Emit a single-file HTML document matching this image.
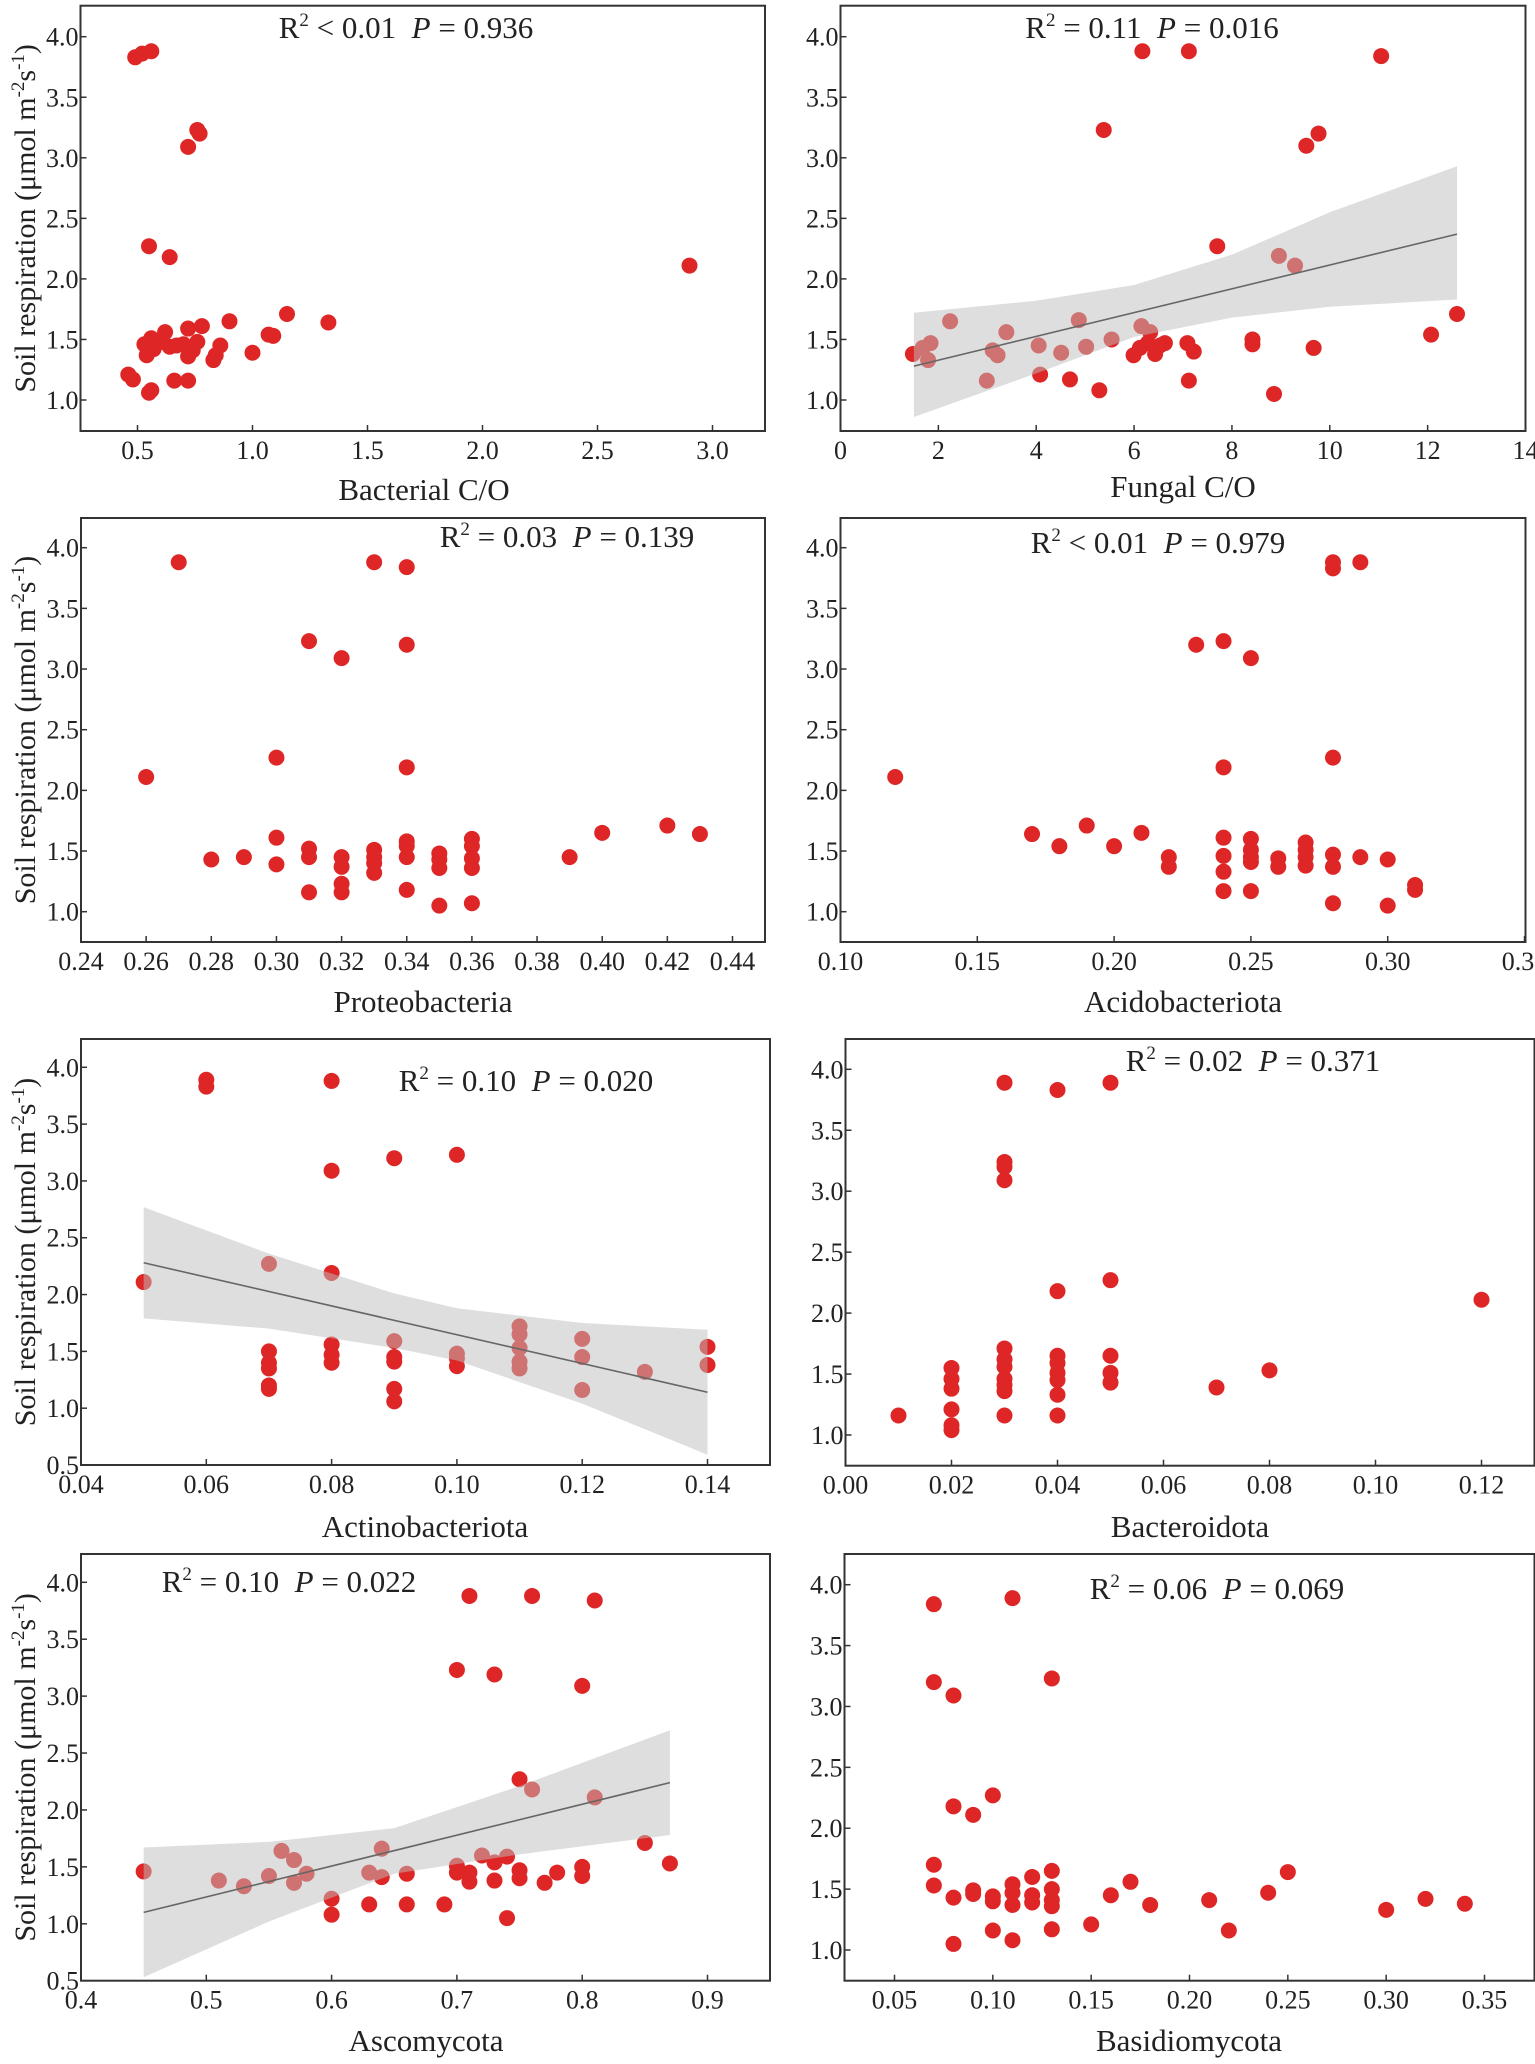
<!DOCTYPE html>
<html><head><meta charset="utf-8">
<style>
html,body{margin:0;padding:0;background:#fff;}
svg{display:block;font-family:"Liberation Serif",serif;}
</style></head>
<body>
<svg id="fig" width="1535" height="2064" viewBox="0 0 1535 2064" xmlns="http://www.w3.org/2000/svg"></svg>
<script>
// ---- Panel 1: Bacterial C/O ----
const p1X = [0.49,0.52,0.56,0.76,0.77,0.72,0.55,0.64,2.90,1.15,1.33,0.90,0.78,0.72,0.62,1.07,1.09,1.00,0.86,0.84,0.83,0.53,0.54,0.56,0.58,0.60,0.64,0.67,0.72,0.74,0.76,0.57,0.70,0.46,0.48,0.55,0.56,0.66,0.72];
const p1Y = [3.83,3.86,3.88,3.23,3.20,3.09,2.27,2.18,2.11,1.71,1.64,1.65,1.61,1.59,1.56,1.54,1.53,1.39,1.45,1.37,1.33,1.46,1.37,1.51,1.46,1.48,1.44,1.45,1.36,1.41,1.48,1.42,1.46,1.21,1.17,1.06,1.08,1.16,1.16];
const p1XTicks = ["0.5","1.0","1.5","2.0","2.5","3.0"];
// ---- Panel 2: Fungal C/O ----
const p2X = [6.17,7.12,11.05,5.38,9.52,9.77,7.70,8.96,9.29,12.6,12.07,9.67,8.42,8.42,7.22,7.09,7.12,8.86,5.29,4.69,4.08,2.99,1.48,1.68,1.79,1.84,2.24,3.11,3.21,3.39,4.05,4.51,4.87,5.02,5.54,6.15,6.33,5.99,6.12,6.28,6.43,6.53,6.63];
const p2Y = [3.88,3.88,3.84,3.23,3.10,3.20,2.27,2.19,2.11,1.71,1.54,1.43,1.50,1.46,1.40,1.47,1.16,1.05,1.08,1.17,1.21,1.16,1.38,1.43,1.33,1.47,1.65,1.41,1.37,1.56,1.45,1.39,1.66,1.44,1.50,1.61,1.56,1.37,1.43,1.47,1.38,1.45,1.47];
const p2XTicks = ["0","2","4","6","8","10","12","14"];
const p2Fit = [1.5,1.28,12.6,2.37];
const p2BandX = [1.5,4,6,8,10,12.6];
const p2BandUp = [1.72,1.82,1.95,2.20,2.55,2.93];
const p2BandLo = [0.86,1.22,1.52,1.68,1.77,1.83];
// ---- Panel 3: Proteobacteria ----
const p3X = [0.27,0.33,0.34,0.31,0.32,0.34,0.30,0.34,0.26,0.42,0.40,0.43,0.39,0.30,0.30,0.28,0.29,0.31,0.31,0.31,0.32,0.32,0.32,0.32,0.33,0.33,0.33,0.33,0.34,0.34,0.34,0.34,0.35,0.35,0.35,0.35,0.36,0.36,0.36,0.36,0.36];
const p3Y = [3.88,3.88,3.84,3.23,3.09,3.20,2.27,2.19,2.11,1.71,1.65,1.64,1.45,1.61,1.39,1.43,1.45,1.52,1.45,1.16,1.45,1.37,1.23,1.16,1.51,1.45,1.40,1.32,1.58,1.54,1.45,1.18,1.48,1.43,1.36,1.05,1.60,1.54,1.44,1.36,1.07];
const p3XTicks = ["0.24","0.26","0.28","0.30","0.32","0.34","0.36","0.38","0.40","0.42","0.44"];
// ---- Panel 4: Acidobacteriota ----
const p4X = [0.28,0.28,0.29,0.23,0.24,0.25,0.28,0.24,0.12,0.17,0.18,0.19,0.20,0.21,0.22,0.22,0.24,0.24,0.24,0.24,0.25,0.25,0.25,0.25,0.25,0.26,0.26,0.27,0.27,0.27,0.27,0.28,0.28,0.28,0.29,0.30,0.30,0.31,0.31];
const p4Y = [3.88,3.83,3.88,3.20,3.23,3.09,2.27,2.19,2.11,1.64,1.54,1.71,1.54,1.65,1.45,1.37,1.61,1.46,1.33,1.17,1.60,1.51,1.45,1.41,1.17,1.44,1.37,1.57,1.51,1.45,1.38,1.47,1.37,1.07,1.45,1.43,1.05,1.22,1.18];
const p4XTicks = ["0.10","0.15","0.20","0.25","0.30","0.35"];
// ---- Panel 5: Actinobacteriota ----
const p5X = [0.06,0.06,0.08,0.08,0.08,0.09,0.10,0.05,0.07,0.07,0.07,0.07,0.07,0.07,0.08,0.08,0.08,0.09,0.09,0.09,0.09,0.09,0.10,0.10,0.10,0.11,0.11,0.11,0.11,0.11,0.12,0.12,0.12,0.13,0.14,0.14];
const p5Y = [3.89,3.83,3.88,3.09,2.19,3.20,3.23,2.11,2.27,1.50,1.40,1.35,1.20,1.17,1.56,1.47,1.40,1.59,1.45,1.41,1.17,1.06,1.48,1.44,1.37,1.72,1.65,1.53,1.41,1.35,1.61,1.45,1.16,1.32,1.54,1.38];
const p5XTicks = ["0.04","0.06","0.08","0.10","0.12","0.14"];
const p5Fit = [0.05,2.28,0.14,1.14];
const p5BandX = [0.05,0.07,0.09,0.10,0.12,0.14];
const p5BandUp = [2.77,2.36,2.01,1.88,1.75,1.69];
const p5BandLo = [1.79,1.70,1.53,1.42,1.04,0.59];
// ---- Panel 6: Bacteroidota ----
const p6X = [0.03,0.04,0.05,0.03,0.03,0.03,0.04,0.05,0.12,0.01,0.02,0.02,0.02,0.02,0.02,0.02,0.03,0.03,0.03,0.03,0.03,0.03,0.03,0.04,0.04,0.04,0.04,0.04,0.04,0.05,0.05,0.05,0.07,0.08];
const p6Y = [3.89,3.83,3.89,3.24,3.20,3.09,2.18,2.27,2.11,1.16,1.55,1.46,1.38,1.21,1.08,1.04,1.71,1.62,1.56,1.46,1.41,1.36,1.16,1.65,1.59,1.51,1.45,1.33,1.16,1.65,1.51,1.43,1.39,1.53];
const p6XTicks = ["0.00","0.02","0.04","0.06","0.08","0.10","0.12"];
// ---- Panel 7: Ascomycota ----
const p7X = [0.71,0.76,0.81,0.70,0.73,0.80,0.75,0.76,0.81,0.85,0.87,0.45,0.51,0.53,0.55,0.56,0.57,0.57,0.58,0.60,0.60,0.63,0.63,0.64,0.64,0.66,0.66,0.69,0.70,0.70,0.71,0.71,0.72,0.73,0.73,0.74,0.74,0.75,0.75,0.77,0.78,0.80,0.80];
const p7Y = [3.88,3.88,3.84,3.23,3.19,3.09,2.27,2.18,2.11,1.71,1.53,1.46,1.38,1.33,1.42,1.64,1.56,1.36,1.44,1.22,1.08,1.45,1.17,1.66,1.41,1.44,1.17,1.17,1.51,1.45,1.45,1.37,1.60,1.54,1.38,1.59,1.05,1.47,1.40,1.36,1.45,1.50,1.42];
const p7XTicks = ["0.4","0.5","0.6","0.7","0.8","0.9"];
const p7Fit = [0.45,1.10,0.87,2.24];
const p7BandX = [0.45,0.55,0.65,0.75,0.87];
const p7BandUp = [1.67,1.72,1.84,2.21,2.70];
const p7BandLo = [0.53,1.02,1.44,1.61,1.78];
// ---- Panel 8: Basidiomycota ----
const p8X = [0.07,0.07,0.07,0.07,0.08,0.08,0.08,0.08,0.09,0.09,0.09,0.10,0.10,0.10,0.10,0.11,0.11,0.11,0.11,0.11,0.12,0.12,0.12,0.13,0.13,0.13,0.13,0.13,0.13,0.15,0.16,0.17,0.18,0.21,0.22,0.24,0.25,0.30,0.32,0.34];
const p8Y = [3.84,3.20,1.70,1.53,3.09,2.18,1.43,1.05,2.11,1.49,1.46,2.27,1.44,1.40,1.16,3.89,1.54,1.47,1.37,1.08,1.60,1.45,1.39,3.23,1.65,1.50,1.41,1.36,1.17,1.21,1.45,1.56,1.37,1.41,1.16,1.47,1.64,1.33,1.42,1.38];
const p8XTicks = ["0.05","0.10","0.15","0.20","0.25","0.30","0.35"];
// y tick labels
const yTicksA = ["1.0","1.5","2.0","2.5","3.0","3.5","4.0"];
const yTicksB = ["0.5","1.0","1.5","2.0","2.5","3.0","3.5","4.0"];

const NS = "http://www.w3.org/2000/svg";
const svg = document.getElementById('fig');
function mk(tag, attrs, parent){ const e=document.createElementNS(NS,tag); for(const k in attrs) e.setAttribute(k,attrs[k]); (parent||svg).appendChild(e); return e; }
function lin(d0,r0,d1,r1){ return v => r0 + (v-d0)*(r1-r0)/(d1-d0); }
const SP = "\u00a0";

const panels = [
 {id:'bacterial-co', x0:80.5,x1:765,y0:5.7,y1:431, xm:[0.5,137.5,1.0,252.5], ym:[4,36.7,1,400], xs:p1X, ys:p1Y, xt:p1XTicks, yt:yTicksA,
  t2:" < 0.01", tp:"0.936", tx:406, ty:38, lab:"Bacterial C/O", lx:424, ly:500},
 {id:'fungal-co', x0:840.5,x1:1525.5,y0:5.7,y1:431, xm:[0,840.5,14,1525.5], ym:[4,36.7,1,400], xs:p2X, ys:p2Y, xt:p2XTicks, yt:yTicksA,
  fit:p2Fit, bx:p2BandX, bu:p2BandUp, bl:p2BandLo, t2:" = 0.11", tp:"0.016", tx:1152, ty:38, lab:"Fungal C/O", lx:1183, ly:497},
 {id:'proteobacteria', x0:81,x1:765,y0:518,y1:942, xm:[0.24,81,0.44,732.5], ym:[4,547.7,1,911.7], xs:p3X, ys:p3Y, xt:p3XTicks, yt:yTicksA,
  t2:" = 0.03", tp:"0.139", tx:567, ty:547, lab:"Proteobacteria", lx:423, ly:1012},
 {id:'acidobacteriota', x0:840.5,x1:1525.5,y0:518,y1:942, xm:[0.10,840.5,0.35,1524.5], ym:[4,547.7,1,911.7], xs:p4X, ys:p4Y, xt:p4XTicks, yt:yTicksA,
  t2:" < 0.01", tp:"0.979", tx:1158, ty:553, lab:"Acidobacteriota", lx:1183, ly:1012},
 {id:'actinobacteriota', x0:81,x1:770,y0:1039,y1:1465, xm:[0.04,81,0.14,707.5], ym:[4,1067.3,0.5,1465], xs:p5X, ys:p5Y, xt:p5XTicks, yt:yTicksB,
  fit:p5Fit, bx:p5BandX, bu:p5BandUp, bl:p5BandLo, t2:" = 0.10", tp:"0.020", tx:526, ty:1091, lab:"Actinobacteriota", lx:425, ly:1537},
 {id:'bacteroidota', x0:845.5,x1:1534.5,y0:1039,y1:1465.7, xm:[0,845.5,0.12,1481.5], ym:[4,1069.3,1,1435], xs:p6X, ys:p6Y, xt:p6XTicks, yt:yTicksA,
  t2:" = 0.02", tp:"0.371", tx:1253, ty:1071, lab:"Bacteroidota", lx:1190, ly:1537},
 {id:'ascomycota', x0:81,x1:770,y0:1554,y1:1980.7, xm:[0.4,81,0.9,707.5], ym:[4,1582.3,0.5,1980.7], xs:p7X, ys:p7Y, xt:p7XTicks, yt:yTicksB,
  fit:p7Fit, bx:p7BandX, bu:p7BandUp, bl:p7BandLo, t2:" = 0.10", tp:"0.022", tx:289, ty:1592, lab:"Ascomycota", lx:426, ly:2051},
 {id:'basidiomycota', x0:844.5,x1:1534.5,y0:1554,y1:1980.7, xm:[0.05,894.5,0.35,1484.5], ym:[4,1584.7,1,1950], xs:p8X, ys:p8Y, xt:p8XTicks, yt:yTicksA,
  t2:" = 0.06", tp:"0.069", tx:1217, ty:1599, lab:"Basidiomycota", lx:1189, ly:2051}
];

panels.forEach((p, pi) => {
  const sx = lin(...p.xm), sy = lin(...p.ym);
  const g = mk('g', {});
  
  
  const pts = mk('g', {}, g);
  
  
  p.xs.forEach((v, i) => {
    const c = mk('circle', {cx: sx(v), cy: sy(p.ys[i]), r: 8, fill: '#de2626'}, pts);
    
    
  });
  if (p.fit) {
    let d = 'M' + sx(p.bx[0]) + ',' + sy(p.bu[0]);
    for (let i = 1; i < p.bx.length; i++) d += ' L' + sx(p.bx[i]) + ',' + sy(p.bu[i]);
    for (let i = p.bx.length - 1; i >= 0; i--) d += ' L' + sx(p.bx[i]) + ',' + sy(p.bl[i]);
    d += ' Z';
    const band = mk('path', {d: d, fill: '#bdbdbd', 'fill-opacity': 0.5, 'stroke-linejoin': 'round'}, g);
    
    
    const ln = mk('line', {x1: sx(p.fit[0]), y1: sy(p.fit[1]), x2: sx(p.fit[2]), y2: sy(p.fit[3]), stroke: '#666', 'stroke-width': 1.6}, g);
    
    
  }
  const fr = mk('rect', {x: p.x0, y: p.y0, width: p.x1 - p.x0, height: p.y1 - p.y0, fill: 'none', stroke: '#333', 'stroke-width': 2}, g);
  
  
  const xa = mk('g', {}, g);
  
  
  p.xt.forEach(t => {
    const x = sx(parseFloat(t));
    mk('line', {x1: x, y1: p.y1, x2: x, y2: p.y1 - 6, stroke: '#333', 'stroke-width': 1.5}, xa);
    const tx = mk('text', {x: x, y: p.y1 + 28, 'text-anchor': 'middle', 'font-size': 26, fill: '#222'}, xa);
    tx.textContent = t;
    
    
  });
  const ya = mk('g', {}, g);
  
  
  p.yt.forEach(t => {
    const y = sy(parseFloat(t));
    mk('line', {x1: p.x0, y1: y, x2: p.x0 + 6, y2: y, stroke: '#333', 'stroke-width': 1.5}, ya);
    const ty = mk('text', {x: p.x0 - 2, y: y + 9, 'text-anchor': 'end', 'font-size': 26, fill: '#222'}, ya);
    ty.textContent = t;
    
    
  });
  const st = mk('text', {x: p.tx, y: p.ty, 'text-anchor': 'middle', 'font-size': 31, fill: '#222'}, g);
  
  
  st.innerHTML = 'R<tspan dy="-12" font-size="19">2</tspan><tspan dy="12">' + p.t2 + SP + SP + '</tspan><tspan font-style="italic">P</tspan> = ' + p.tp;
  const xl = mk('text', {x: p.lx, y: p.ly, 'text-anchor': 'middle', 'font-size': 31, fill: '#222'}, g);
  xl.textContent = p.lab;
  
  
  if (pi % 2 === 0) {
    const cy = (p.y0 + p.y1) / 2;
    const yl = mk('text', {x: 0, y: 0, transform: 'translate(35,' + cy + ') rotate(-90)', 'text-anchor': 'middle', 'font-size': 30, fill: '#222'}, g);
    
    
    yl.innerHTML = 'Soil respiration (\u03bcmol m<tspan dy="-11" font-size="19">-2</tspan><tspan dy="11" font-size="30">s</tspan><tspan dy="-11" font-size="19">-1</tspan><tspan dy="11">)</tspan>';
  }
});
</script>
</body></html>
